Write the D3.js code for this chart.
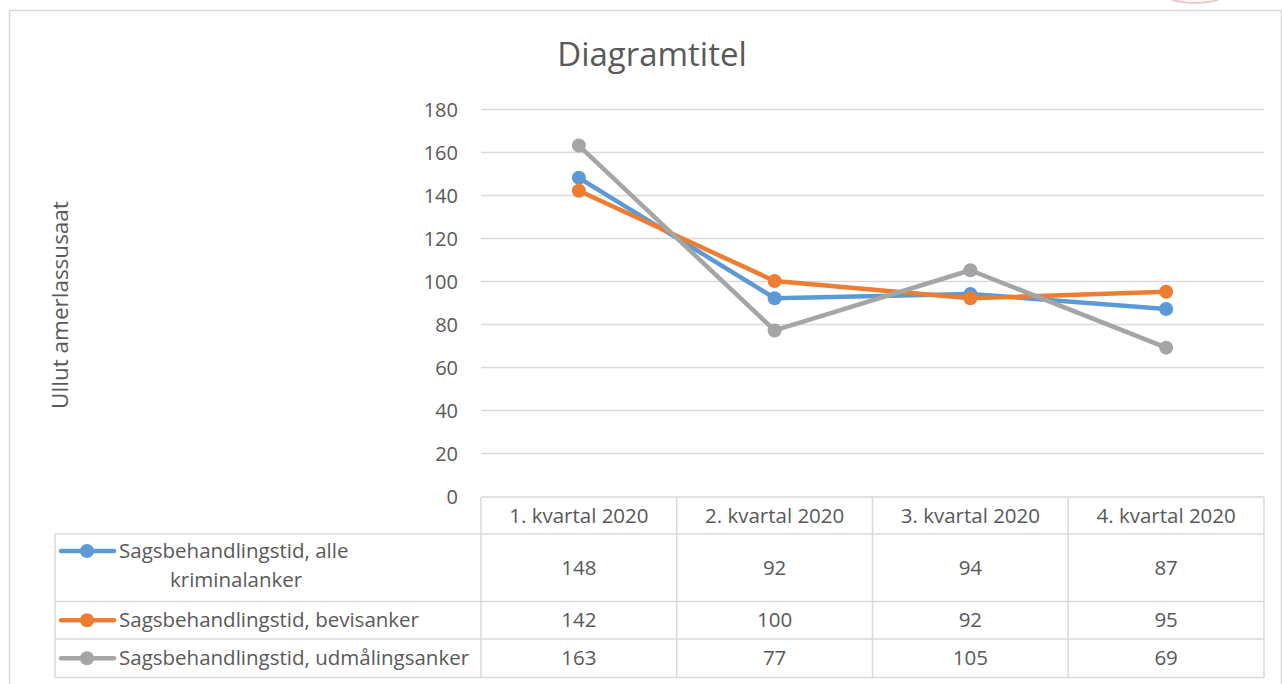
<!DOCTYPE html>
<html>
<head>
<meta charset="utf-8">
<script src="https://cdn.jsdelivr.net/npm/d3@7"></script>
<style>
  body { margin: 0; background: #fff; }
  svg { display: block; font-family: "Open Sans", sans-serif; }
</style>
</head>
<body>
<svg width="1282" height="684"></svg>
<script>
// data
var categories = ["1. kvartal 2020", "2. kvartal 2020", "3. kvartal 2020", "4. kvartal 2020"];
var seriesNames = ["Sagsbehandlingstid, alle kriminalanker", "Sagsbehandlingstid, bevisanker", "Sagsbehandlingstid, udmålingsanker"];
var alleValues = [148, 92, 94, 87];
var bevisValues = [142, 100, 92, 95];
var udmaalValues = [163, 77, 105, 69];
var yTicks = [0, 20, 40, 60, 80, 100, 120, 140, 160, 180];
var colors = ["#5B9BD5", "#ED7D31", "#A5A5A5"];

var series = [alleValues, bevisValues, udmaalValues].map(function(v, i) {
    return { name: seriesNames[i], values: v, color: colors[i] };
});

var svg = d3.select("svg");
var textColor = "#595959";
var gridColor = "#d9d9d9";
var cellFont = 20.5;

// outer chart border
svg.append("path")
    .attr("d", "M9.5,684 V10.5 H1281.5 V684")
    .attr("fill", "none")
    .attr("stroke", gridColor)
    .attr("stroke-width", 1.5);

// faint arc in top right corner
svg.append("path")
    .attr("d", "M1172,0 Q1195,6 1218,0")
    .attr("fill", "none")
    .attr("stroke", "#e8a0a8")
    .attr("stroke-width", 2)
    .attr("opacity", 0.6);

var plotLeft = 481, plotRight = 1264, plotTop = 109, plotBottom = 496;

var x = d3.scaleBand()
    .domain(categories)
    .range([plotLeft, plotRight]);

var y = d3.scaleLinear()
    .domain([0, 180])
    .range([plotBottom, plotTop]);

// title
svg.append("text")
    .attr("x", 652)
    .attr("y", 66)
    .attr("text-anchor", "middle")
    .attr("font-size", 33)
    .attr("fill", textColor)
    .text("Diagramtitel");

// axis title
svg.append("text")
    .attr("transform", "translate(68,305) rotate(-90)")
    .attr("text-anchor", "middle")
    .attr("font-size", 22.5)
    .attr("fill", textColor)
    .text("Ullut amerlassusaat");

// gridlines
svg.append("g").selectAll("line")
    .data(yTicks.filter(function(d) { return d > 0; }))
    .enter().append("line")
    .attr("x1", plotLeft)
    .attr("x2", plotRight)
    .attr("y1", function(d) { return Math.round(y(d)) + 0.5; })
    .attr("y2", function(d) { return Math.round(y(d)) + 0.5; })
    .attr("stroke", gridColor)
    .attr("stroke-width", 1.5);

// y tick labels
var yAxis = svg.append("g")
    .attr("transform", "translate(" + (plotLeft - 23) + ",0)")
    .call(d3.axisLeft(y).tickValues(yTicks).tickSize(0).tickPadding(0));
yAxis.select(".domain").remove();
yAxis.selectAll("text")
    .attr("font-size", 20)
    .attr("font-family", "Open Sans, sans-serif")
    .attr("fill", textColor)
    .attr("dy", "0.35em");

// lines and markers
var line = d3.line()
    .x(function(d, i) { return x(categories[i]) + x.bandwidth() / 2; })
    .y(function(d) { return y(d); });

series.forEach(function(s) {
    svg.append("path")
        .datum(s.values)
        .attr("d", line)
        .attr("fill", "none")
        .attr("stroke", s.color)
        .attr("stroke-width", 4.5)
        .attr("stroke-linejoin", "round")
        .attr("stroke-linecap", "round");
    svg.append("g").selectAll("circle")
        .data(s.values)
        .enter().append("circle")
        .attr("cx", function(d, i) { return x(categories[i]) + x.bandwidth() / 2; })
        .attr("cy", function(d) { return y(d); })
        .attr("r", 7)
        .attr("fill", s.color);
});

// data table
var tableLeft = 55;
var rowEdges = [497, 534, 601.5, 639, 677.5];

var tbl = svg.append("g")
    .attr("stroke", gridColor)
    .attr("stroke-width", 1.5)
    .attr("fill", "none");

tbl.append("line").attr("x1", plotLeft).attr("x2", plotRight).attr("y1", rowEdges[0]).attr("y2", rowEdges[0]);
rowEdges.slice(1).forEach(function(yy) {
    tbl.append("line").attr("x1", tableLeft).attr("x2", plotRight).attr("y1", yy).attr("y2", yy);
});
tbl.append("line").attr("x1", tableLeft).attr("x2", tableLeft).attr("y1", rowEdges[1]).attr("y2", rowEdges[4]);
categories.forEach(function(c) {
    tbl.append("line").attr("x1", x(c)).attr("x2", x(c)).attr("y1", rowEdges[0]).attr("y2", rowEdges[4]);
});
tbl.append("line").attr("x1", plotRight).attr("x2", plotRight).attr("y1", rowEdges[0]).attr("y2", rowEdges[4]);

// header labels
svg.append("g").selectAll("text")
    .data(categories)
    .enter().append("text")
    .attr("x", function(d) { return x(d) + x.bandwidth() / 2; })
    .attr("y", (rowEdges[0] + rowEdges[1]) / 2)
    .attr("dy", "0.35em")
    .attr("text-anchor", "middle")
    .attr("font-size", cellFont)
    .attr("fill", textColor)
    .text(function(d) { return d; });

// rows
series.forEach(function(s, r) {
    var top = rowEdges[r + 1], bottom = rowEdges[r + 2];
    var mid = (top + bottom) / 2;
    var keyY = r === 0 ? 551 : mid;

    // legend key
    svg.append("line")
        .attr("x1", 61).attr("x2", 114)
        .attr("y1", keyY).attr("y2", keyY)
        .attr("stroke", s.color)
        .attr("stroke-width", 4.5)
        .attr("stroke-linecap", "round");
    svg.append("circle")
        .attr("cx", 87).attr("cy", keyY).attr("r", 7)
        .attr("fill", s.color);

    if (r === 0) {
        svg.append("text")
            .attr("x", 119).attr("y", 551).attr("dy", "0.35em")
            .attr("font-size", cellFont).attr("fill", textColor)
            .text("Sagsbehandlingstid, alle");
        svg.append("text")
            .attr("x", 170).attr("y", 580).attr("dy", "0.35em")
            .attr("font-size", cellFont).attr("fill", textColor)
            .text("kriminalanker");
    } else {
        svg.append("text")
            .attr("x", 119).attr("y", mid).attr("dy", "0.35em")
            .attr("font-size", cellFont).attr("fill", textColor)
            .text(s.name);
    }

    svg.append("g").selectAll("text")
        .data(s.values)
        .enter().append("text")
        .attr("x", function(d, i) { return x(categories[i]) + x.bandwidth() / 2; })
        .attr("y", mid)
        .attr("dy", "0.35em")
        .attr("text-anchor", "middle")
        .attr("font-size", cellFont)
        .attr("fill", textColor)
        .text(function(d) { return d; });
});
</script>
</body>
</html>
